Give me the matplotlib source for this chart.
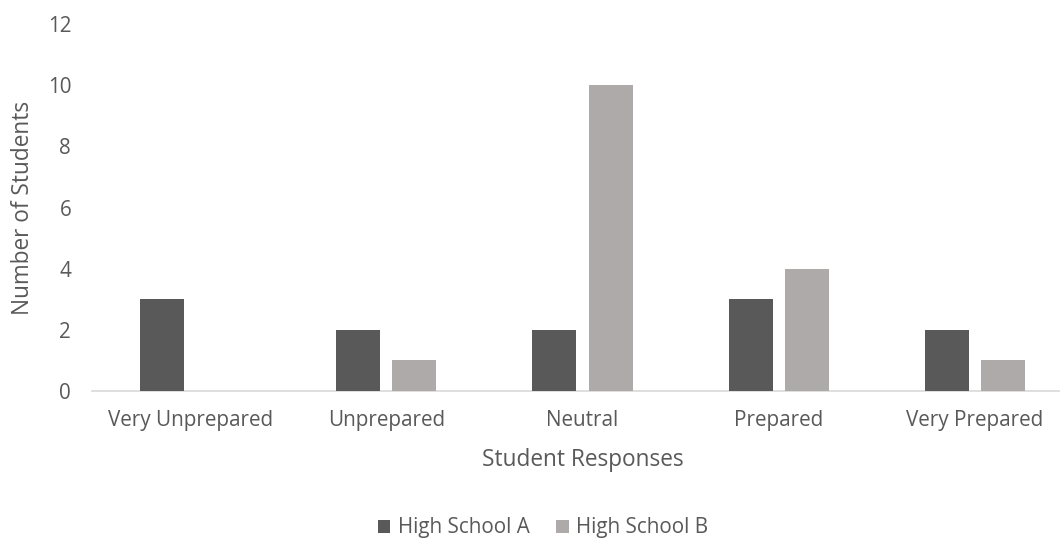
import matplotlib.pyplot as plt
import numpy as np
from matplotlib.transforms import blended_transform_factory

# Survey responses per school
categories = ["Very Unprepared", "Unprepared", "Neutral", "Prepared", "Very Prepared"]
school_a = [3, 2, 2, 3, 2]
school_b = [0, 1, 10, 4, 1]
series_names = ["High School A", "High School B"]
y_ticks = [0, 2, 4, 6, 8, 10, 12]

text_color = "#595959"
color_a = "#595959"
color_b = "#AEAAAA"

plt.rcParams['font.family'] = ['Open Sans', 'DejaVu Sans']

fig = plt.figure(figsize=(10.6, 5.42), dpi=100)
ax = fig.add_axes([92 / 1060, (542 - 391) / 542, (1060 - 92) / 1060, (391 - 24) / 542])

x = np.arange(len(categories))
width = 0.224
offset = 0.143
ax.bar(x - offset, school_a, width, color=color_a, label=series_names[0], zorder=3)
ax.bar(x + offset, school_b, width, color=color_b, label=series_names[1], zorder=3)

ax.set_xlim(-0.5, -0.5 + (1060 - 92) / 196.2)
ax.set_ylim(0, 12)
ax.set_yticks(y_ticks)
ax.set_xticks(x)
ax.set_xticklabels(categories)
ax.tick_params(axis='both', length=0, labelsize=14.9, colors=text_color)
ax.tick_params(axis='y', pad=15)
ax.tick_params(axis='x', pad=14)

for side in ["top", "right", "left"]:
    ax.spines[side].set_visible(False)
ax.spines["bottom"].set_color("#D9D9D9")
ax.spines["bottom"].set_linewidth(1.2)

ax.set_ylabel("Number of Students", fontsize=16.3, color=text_color)
ax.yaxis.set_label_coords((35 - 92) / 968, 0.5)
trans = blended_transform_factory(ax.transData, fig.transFigure)
ax.text(2, 1 - 460 / 542, "Student Responses", transform=trans, ha="center", va="center",
        fontsize=16.3, color=text_color)

fig.legend(loc="center", bbox_to_anchor=(543 / 1060, 1 - 528 / 542), ncol=2, frameon=False,
           fontsize=14.9, labelcolor=text_color, handlelength=0.6, handleheight=0.6,
           handletextpad=0.35, columnspacing=1.3)

fig.savefig("out.png", dpi=100)
